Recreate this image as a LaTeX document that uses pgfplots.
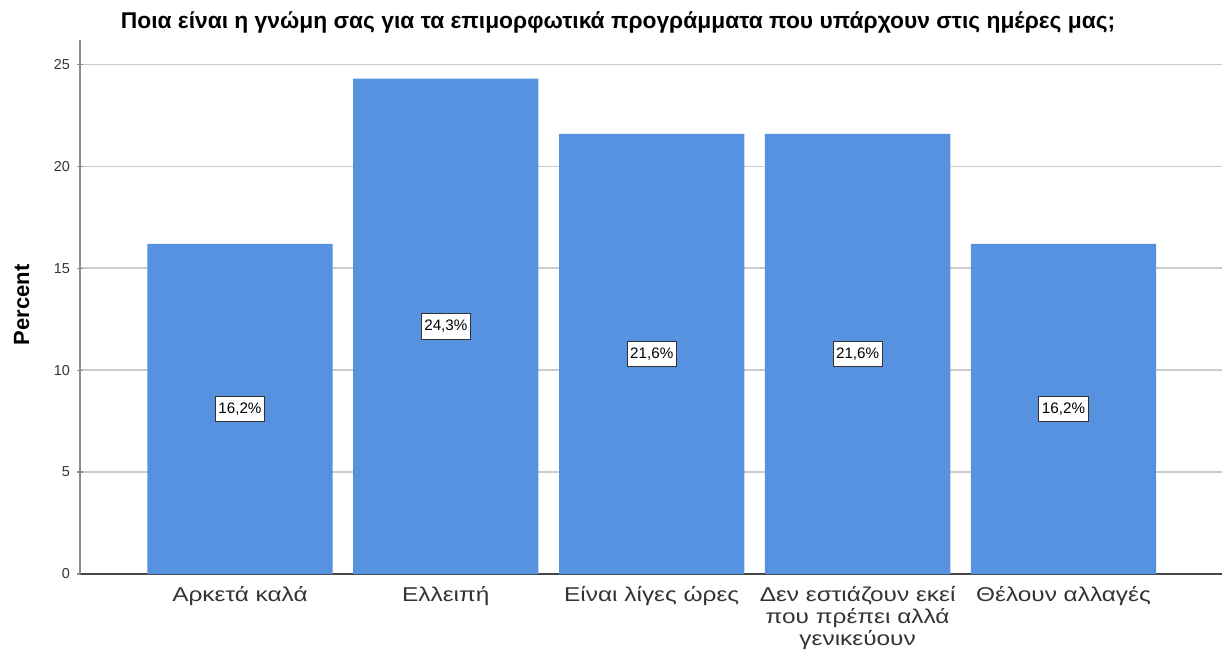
\documentclass[border=0pt]{standalone}
\usepackage{fontspec}
\setmainfont{Liberation Sans}
\newfontfamily\widefont[FakeStretch=1.22]{Liberation Sans}
\usepackage{pgfplots}
\pgfplotsset{compat=1.18}
\definecolor{barblue}{HTML}{5692E0}
\definecolor{gridgray}{HTML}{CCCCCC}
\definecolor{axisgray}{HTML}{8C8C8C}
\definecolor{ink}{HTML}{333333}

\begin{document}
\begin{tikzpicture}
\useasboundingbox (-40pt,-42.5pt) rectangle (575.5pt,287pt);
\begin{axis}[
    at={(0,0)}, anchor=south west,
    scale only axis,
    width=571pt, height=267pt,
    xmin=-0.777, xmax=4.77,
    ymin=0, ymax=26.2,
    axis lines=left,
    axis line style={-},
    x axis line style={draw=ink!90, line width=0.9pt},
    y axis line style={draw=axisgray, line width=1pt},
    ytick={0,5,10,15,20,25},
    ymajorgrids=true,
    grid style={draw=gridgray, line width=0.8pt},
    y tick style={draw=axisgray, line width=0.6pt},
    major tick length=3pt,
    xtick={0,1,2,3,4},
    x tick style={draw=none},
    xticklabels={Αρκετά καλά, Ελλειπή, Είναι λίγες ώρες, {Δεν εστιάζουν εκεί\\που πρέπει αλλά\\γενικεύουν}, Θέλουν αλλαγές},
    xticklabel style={font=\widefont\fontsize{10}{11}\selectfont, text=ink, align=center, yshift=-1pt},
    yticklabel style={font=\fontsize{7.2}{8}\selectfont, text=ink},
    /pgf/number format/assume math mode=true,
    ylabel={Percent},
    ylabel style={font=\bfseries\fontsize{11}{13}\selectfont, at={(axis description cs:-0.051,0.504)}, anchor=center},
]
\addplot[ybar, bar width=0.9, fill=barblue, draw=none] coordinates {(0,16.2) (1,24.3) (2,21.6) (3,21.6) (4,16.2)};
\addplot[draw=none, mark=none, point meta=explicit symbolic,
    nodes near coords,
    every node near coord/.append style={anchor=center, fill=white, draw=ink, line width=0.5pt,
        inner xsep=1.5pt, inner ysep=3.2pt, font=\fontsize{7.6}{8}\selectfont, text=black}]
    coordinates {(0,8.1)[16,2\%] (1,12.15)[24,3\%] (2,10.8)[21,6\%] (3,10.8)[21,6\%] (4,8.1)[16,2\%]};
\end{axis}
\node[font=\bfseries\fontsize{11.4}{13}\selectfont, anchor=center] at (269pt,276pt) {Ποια είναι η γνώμη σας για τα επιμορφωτικά προγράμματα που υπάρχουν στις ημέρες μας;};
\end{tikzpicture}
\end{document}
